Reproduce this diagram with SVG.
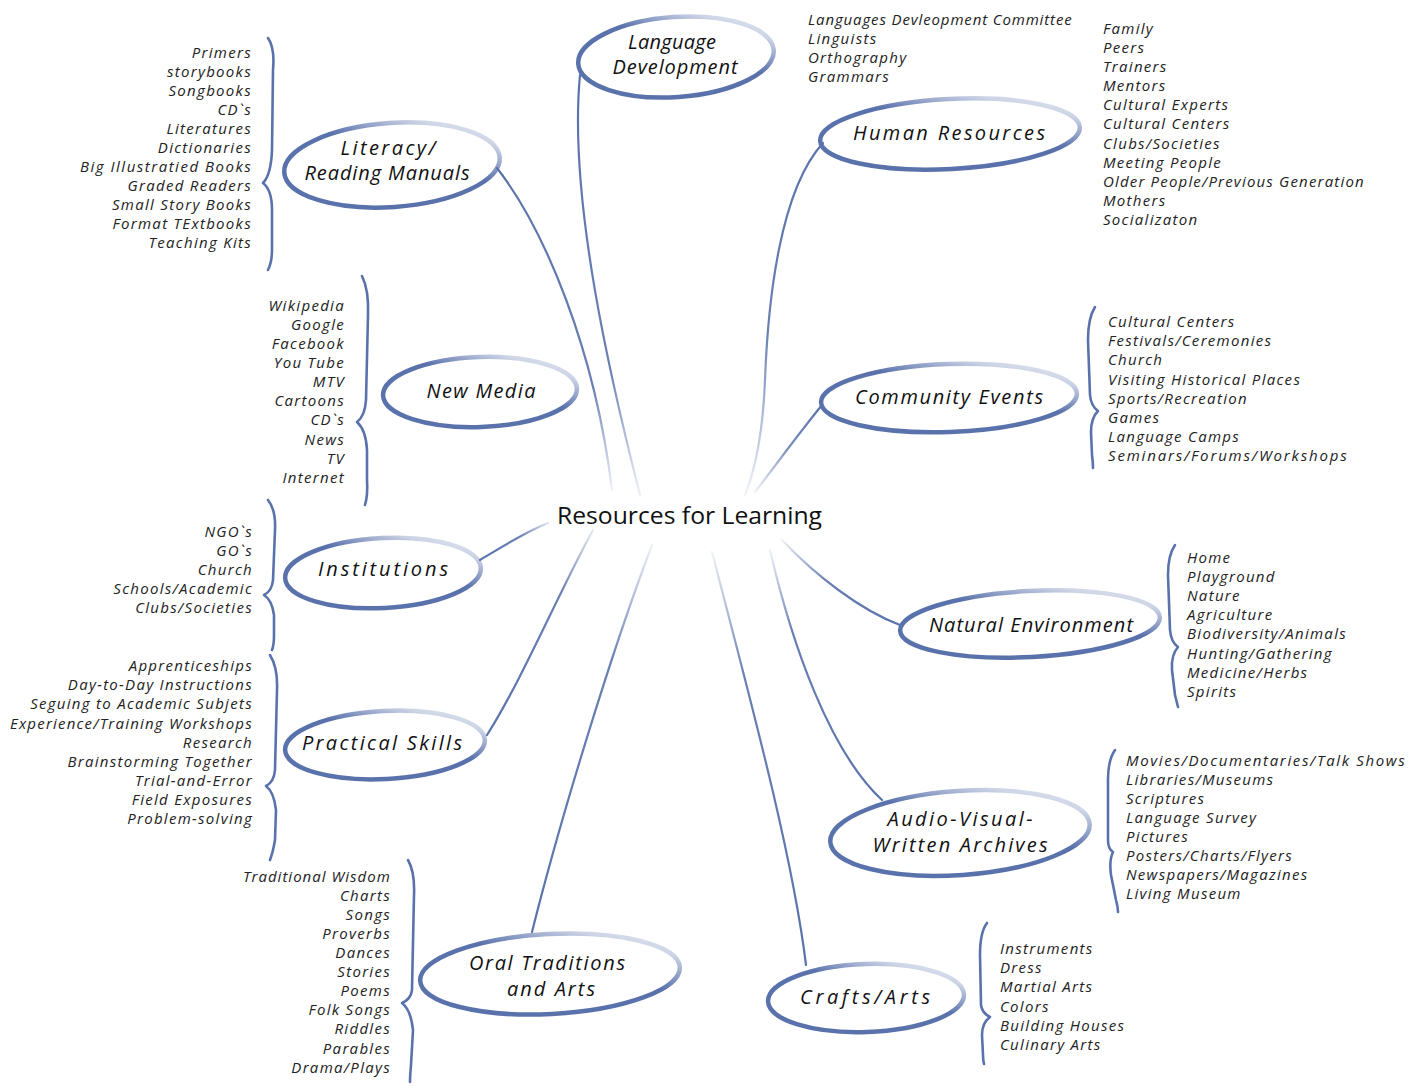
<svg xmlns="http://www.w3.org/2000/svg" width="1424" height="1089" viewBox="0 0 1424 1089">
<style>
.bg{fill:#ffffff}
.node ellipse{fill:none;stroke:url(#eg);stroke-width:4.5}
.lbl{font-family:"Open Sans","DejaVu Sans",sans-serif;font-style:italic;font-size:20px;fill:#111;text-anchor:middle}
.li{font-family:"Open Sans","DejaVu Sans",sans-serif;font-style:italic;font-size:15px;letter-spacing:1.3px;fill:#222}
.r{text-anchor:end}
.brace{fill:none;stroke:#5a72ac;stroke-width:2.6;stroke-linecap:round;stroke-linejoin:round}
.con path{fill:none;stroke-width:2.2;stroke-linecap:round}
.title{font-family:"Open Sans","Noto Sans",sans-serif;font-size:24px;fill:#111}
</style>
<defs>
<linearGradient id="eg" x1="0" y1="1" x2="1" y2="0">
<stop offset="0" stop-color="#5a72ac" stop-opacity="1"/>
<stop offset="0.58" stop-color="#5a72ac" stop-opacity="1"/>
<stop offset="0.82" stop-color="#5a72ac" stop-opacity="0.3"/>
<stop offset="1" stop-color="#5a72ac" stop-opacity="0.12"/>
</linearGradient>
<linearGradient id="c1" gradientUnits="userSpaceOnUse" x1="580" y1="75" x2="640" y2="495"><stop offset="0" stop-color="#5a72ac"/><stop offset="0.7" stop-color="#5a72ac" stop-opacity="0.9"/><stop offset="1" stop-color="#5a72ac" stop-opacity="0.1"/></linearGradient>
<linearGradient id="c2" gradientUnits="userSpaceOnUse" x1="497" y1="168" x2="612" y2="490"><stop offset="0" stop-color="#5a72ac"/><stop offset="0.7" stop-color="#5a72ac" stop-opacity="0.9"/><stop offset="1" stop-color="#5a72ac" stop-opacity="0.1"/></linearGradient>
<linearGradient id="c3" gradientUnits="userSpaceOnUse" x1="823" y1="143" x2="745" y2="495"><stop offset="0" stop-color="#5a72ac"/><stop offset="0.55" stop-color="#5a72ac" stop-opacity="0.9"/><stop offset="1" stop-color="#5a72ac" stop-opacity="0.08"/></linearGradient>
<linearGradient id="c4" gradientUnits="userSpaceOnUse" x1="822" y1="405" x2="755" y2="492"><stop offset="0" stop-color="#5a72ac"/><stop offset="0.5" stop-color="#5a72ac" stop-opacity="0.8"/><stop offset="1" stop-color="#5a72ac" stop-opacity="0.1"/></linearGradient>
<linearGradient id="c5" gradientUnits="userSpaceOnUse" x1="480" y1="560" x2="548" y2="523"><stop offset="0" stop-color="#5a72ac"/><stop offset="0.6" stop-color="#5a72ac" stop-opacity="0.9"/><stop offset="1" stop-color="#5a72ac" stop-opacity="0.2"/></linearGradient>
<linearGradient id="c6" gradientUnits="userSpaceOnUse" x1="900" y1="625" x2="782" y2="540"><stop offset="0" stop-color="#5a72ac"/><stop offset="0.6" stop-color="#5a72ac" stop-opacity="0.9"/><stop offset="1" stop-color="#5a72ac" stop-opacity="0.1"/></linearGradient>
<linearGradient id="c7" gradientUnits="userSpaceOnUse" x1="487" y1="735" x2="593" y2="530"><stop offset="0" stop-color="#5a72ac"/><stop offset="0.7" stop-color="#5a72ac" stop-opacity="0.9"/><stop offset="1" stop-color="#5a72ac" stop-opacity="0.15"/></linearGradient>
<linearGradient id="c8" gradientUnits="userSpaceOnUse" x1="882" y1="800" x2="770" y2="550"><stop offset="0" stop-color="#5a72ac"/><stop offset="0.7" stop-color="#5a72ac" stop-opacity="0.9"/><stop offset="1" stop-color="#5a72ac" stop-opacity="0.1"/></linearGradient>
<linearGradient id="c9" gradientUnits="userSpaceOnUse" x1="532" y1="932" x2="652" y2="545"><stop offset="0" stop-color="#5a72ac"/><stop offset="0.7" stop-color="#5a72ac" stop-opacity="0.9"/><stop offset="1" stop-color="#5a72ac" stop-opacity="0.1"/></linearGradient>
<linearGradient id="c10" gradientUnits="userSpaceOnUse" x1="806" y1="965" x2="712" y2="552"><stop offset="0" stop-color="#5a72ac"/><stop offset="0.7" stop-color="#5a72ac" stop-opacity="0.9"/><stop offset="1" stop-color="#5a72ac" stop-opacity="0.1"/></linearGradient>
</defs>
<rect class="bg" x="0" y="0" width="1424" height="1089"/>

<g id="connectors" class="con">
<path d="M580,75 C568,200 612,385 640,495" stroke="url(#c1)"/>
<path d="M497,168 C545,230 595,350 612,490" stroke="url(#c2)"/>
<path d="M823,143 C780,190 768,300 765,380 C763,430 755,470 745,495" stroke="url(#c3)"/>
<path d="M822,405 C800,432 778,462 755,492" stroke="url(#c4)"/>
<path d="M480,560 C505,545 525,532 548,523" stroke="url(#c5)"/>
<path d="M900,625 C860,610 815,575 782,540" stroke="url(#c6)"/>
<path d="M487,735 C522,680 560,590 593,530" stroke="url(#c7)"/>
<path d="M882,800 C830,752 792,645 770,550" stroke="url(#c8)"/>
<path d="M532,932 C560,820 612,650 652,545" stroke="url(#c9)"/>
<path d="M806,965 C792,850 745,680 712,552" stroke="url(#c10)"/>
</g>

<g id="center">
<text class="title" x="557" y="524" textLength="265" lengthAdjust="spacingAndGlyphs">Resources for Learning</text>
</g>

<g id="n-language" class="node">
<ellipse cx="676" cy="57" rx="98" ry="40" transform="rotate(-4 676 57)"/>
<text class="lbl" x="672" y="49" textLength="88">Language</text>
<text class="lbl" x="675" y="74" textLength="125">Development</text>
<g class="li">
<text x="808" y="25" textLength="265">Languages Devleopment Committee</text>
<text x="808" y="44">Linguists</text>
<text x="808" y="63">Orthography</text>
<text x="808" y="82">Grammars</text>
</g>
</g>

<g id="n-literacy" class="node">
<ellipse cx="392" cy="165" rx="108" ry="42" transform="rotate(-4 392 165)"/>
<text class="lbl" x="388" y="155" textLength="95">Literacy/</text>
<text class="lbl" x="387" y="180" textLength="165">Reading Manuals</text>
<path class="brace" d="M268,38 Q275,48 273,70 L272,150 Q271,175 263,183 Q272,190 272,210 L272,250 Q272,262 268,270"/>
<g class="li r">
<text x="252" y="58">Primers</text>
<text x="252" y="77">storybooks</text>
<text x="252" y="96">Songbooks</text>
<text x="252" y="115">CD`s</text>
<text x="252" y="134">Literatures</text>
<text x="252" y="153">Dictionaries</text>
<text x="252" y="172" textLength="172">Big Illustratied Books</text>
<text x="252" y="191">Graded Readers</text>
<text x="252" y="210">Small Story Books</text>
<text x="252" y="229">Format TExtbooks</text>
<text x="252" y="248">Teaching Kits</text>
</g>
</g>

<g id="n-human" class="node">
<ellipse cx="950" cy="134" rx="130" ry="35" transform="rotate(-3 950 134)"/>
<text class="lbl" x="949" y="140" textLength="192">Human Resources</text>
<g class="li">
<text x="1103" y="34">Family</text>
<text x="1103" y="53">Peers</text>
<text x="1103" y="72">Trainers</text>
<text x="1103" y="91">Mentors</text>
<text x="1103" y="110">Cultural Experts</text>
<text x="1103" y="129">Cultural Centers</text>
<text x="1103" y="149">Clubs/Societies</text>
<text x="1103" y="168">Meeting People</text>
<text x="1103" y="187" textLength="262">Older People/Previous Generation</text>
<text x="1103" y="206">Mothers</text>
<text x="1103" y="225">Socializaton</text>
</g>
</g>

<g id="n-newmedia" class="node">
<ellipse cx="480" cy="392" rx="97" ry="35" transform="rotate(-2 480 392)"/>
<text class="lbl" x="481" y="398" textLength="109">New Media</text>
<path class="brace" d="M362,276 Q369,290 368,315 L366,400 Q365,416 357,422 Q366,430 367,450 L367,480 Q368,495 365,505"/>
<g class="li r">
<text x="345" y="311">Wikipedia</text>
<text x="345" y="330">Google</text>
<text x="345" y="349">Facebook</text>
<text x="345" y="368">You Tube</text>
<text x="345" y="387">MTV</text>
<text x="345" y="406">Cartoons</text>
<text x="345" y="425">CD`s</text>
<text x="345" y="445">News</text>
<text x="345" y="464">TV</text>
<text x="345" y="483">Internet</text>
</g>
</g>

<g id="n-community" class="node">
<ellipse cx="949" cy="398" rx="128" ry="34" transform="rotate(-2 949 398)"/>
<text class="lbl" x="949" y="404" textLength="188">Community Events</text>
<path class="brace" d="M1095,307 Q1088,318 1088,340 L1090,395 Q1091,406 1098,411 Q1091,418 1091,432 L1092,455 Q1093,462 1093,468"/>
<g class="li">
<text x="1108" y="327">Cultural Centers</text>
<text x="1108" y="346">Festivals/Ceremonies</text>
<text x="1108" y="365">Church</text>
<text x="1108" y="385">Visiting Historical Places</text>
<text x="1108" y="404">Sports/Recreation</text>
<text x="1108" y="423">Games</text>
<text x="1108" y="442">Language Camps</text>
<text x="1108" y="461" textLength="240">Seminars/Forums/Workshops</text>
</g>
</g>

<g id="n-institutions" class="node">
<ellipse cx="383" cy="573" rx="98" ry="35" transform="rotate(-3 383 573)"/>
<text class="lbl" x="383" y="576" textLength="130">Institutions</text>
<path class="brace" d="M268,500 Q276,510 275,530 L273,580 Q272,591 264,595 Q272,600 274,615 L274,635 Q274,645 272,650"/>
<g class="li r">
<text x="253" y="537">NGO`s</text>
<text x="253" y="556">GO`s</text>
<text x="253" y="575">Church</text>
<text x="253" y="594">Schools/Academic</text>
<text x="253" y="613">Clubs/Societies</text>
</g>
</g>

<g id="n-natural" class="node">
<ellipse cx="1030" cy="624" rx="130" ry="33" transform="rotate(-3 1030 624)"/>
<text class="lbl" x="1031" y="632" textLength="204">Natural Environment</text>
<path class="brace" d="M1175,545 Q1168,555 1168,575 L1170,630 Q1171,642 1178,647 Q1171,655 1172,670 L1175,695 Q1177,703 1178,707"/>
<g class="li">
<text x="1187" y="563">Home</text>
<text x="1187" y="582">Playground</text>
<text x="1187" y="601">Nature</text>
<text x="1187" y="620">Agriculture</text>
<text x="1187" y="639">Biodiversity/Animals</text>
<text x="1187" y="659">Hunting/Gathering</text>
<text x="1187" y="678">Medicine/Herbs</text>
<text x="1187" y="697">Spirits</text>
</g>
</g>

<g id="n-practical" class="node">
<ellipse cx="385" cy="745" rx="100" ry="34" transform="rotate(-3 385 745)"/>
<text class="lbl" x="382" y="750" textLength="160">Practical Skills</text>
<path class="brace" d="M270,655 Q278,668 277,690 L275,770 Q274,782 266,786 Q274,792 276,810 L275,840 Q273,852 270,860"/>
<g class="li r">
<text x="253" y="671">Apprenticeships</text>
<text x="253" y="690">Day-to-Day Instructions</text>
<text x="253" y="709">Seguing to Academic Subjets</text>
<text x="253" y="729" textLength="243">Experience/Training Workshops</text>
<text x="253" y="748">Research</text>
<text x="253" y="767">Brainstorming Together</text>
<text x="253" y="786">Trial-and-Error</text>
<text x="253" y="805">Field Exposures</text>
<text x="253" y="824">Problem-solving</text>
</g>
</g>

<g id="n-audio" class="node">
<ellipse cx="960" cy="833" rx="130" ry="42" transform="rotate(-4 960 833)"/>
<text class="lbl" x="960" y="826" textLength="145">Audio-Visual-</text>
<text class="lbl" x="960" y="852" textLength="175">Written Archives</text>
<path class="brace" d="M1115,750 Q1108,760 1108,780 L1108,840 Q1108,849 1113,852 Q1109,860 1111,875 L1116,900 Q1118,907 1118,912"/>
<g class="li">
<text x="1126" y="766" textLength="280">Movies/Documentaries/Talk Shows</text>
<text x="1126" y="785">Libraries/Museums</text>
<text x="1126" y="804">Scriptures</text>
<text x="1126" y="823">Language Survey</text>
<text x="1126" y="842">Pictures</text>
<text x="1126" y="861">Posters/Charts/Flyers</text>
<text x="1126" y="880">Newspapers/Magazines</text>
<text x="1126" y="899">Living Museum</text>
</g>
</g>

<g id="n-oral" class="node">
<ellipse cx="550" cy="974" rx="130" ry="40" transform="rotate(-3 550 974)"/>
<text class="lbl" x="547" y="970" textLength="156">Oral Traditions</text>
<text class="lbl" x="551" y="996" textLength="88">and Arts</text>
<path class="brace" d="M408,860 Q415,872 414,895 L412,990 Q411,999 402,1003 Q411,1010 413,1030 L411,1065 Q410,1076 410,1082"/>
<g class="li r">
<text x="391" y="882" textLength="148">Traditional Wisdom</text>
<text x="391" y="901">Charts</text>
<text x="391" y="920">Songs</text>
<text x="391" y="939">Proverbs</text>
<text x="391" y="958">Dances</text>
<text x="391" y="977">Stories</text>
<text x="391" y="996">Poems</text>
<text x="391" y="1015">Folk Songs</text>
<text x="391" y="1034">Riddles</text>
<text x="391" y="1054">Parables</text>
<text x="391" y="1073">Drama/Plays</text>
</g>
</g>

<g id="n-crafts" class="node">
<ellipse cx="866" cy="998" rx="98" ry="34" transform="rotate(-2 866 998)"/>
<text class="lbl" x="865" y="1004" textLength="130">Crafts/Arts</text>
<path class="brace" d="M987,923 Q980,932 980,955 L981,1005 Q982,1013 990,1017 Q982,1023 982,1035 L983,1055 Q983,1060 984,1064"/>
<g class="li">
<text x="1000" y="954">Instruments</text>
<text x="1000" y="973">Dress</text>
<text x="1000" y="992">Martial Arts</text>
<text x="1000" y="1012">Colors</text>
<text x="1000" y="1031">Building Houses</text>
<text x="1000" y="1050">Culinary Arts</text>
</g>
</g>
</svg>
